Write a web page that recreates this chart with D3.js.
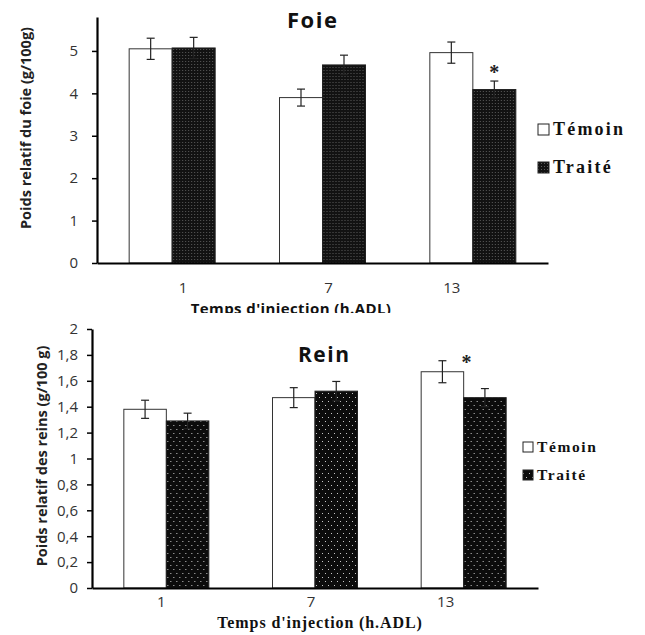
<!DOCTYPE html>
<html>
<head>
<meta charset="utf-8">
<script src="https://cdn.jsdelivr.net/npm/d3@7"></script>
<style>
  body { margin: 0; background: #fff; }
  svg { display: block; }
</style>
</head>
<body>
<svg id="chart"></svg>
<script>
// data
const categories = ['1', '7', '13'];
const series = ['Témoin', 'Traité'];

const foieTemoin = [5.05, 3.90, 4.96];
const foieTraite = [5.07, 4.67, 4.09];
const foieTemoinErr = [0.25, 0.20, 0.25];
const foieTraiteErr = [0.25, 0.23, 0.20];
const foieTicks = [0, 1, 2, 3, 4, 5];

const reinTemoin = [1.38, 1.47, 1.67];
const reinTraite = [1.29, 1.52, 1.47];
const reinTemoinErr = [0.07, 0.077, 0.085];
const reinTraiteErr = [0.06, 0.075, 0.07];
const reinTicks = [0, 0.2, 0.4, 0.6, 0.8, 1, 1.2, 1.4, 1.6, 1.8, 2];

const width = 645, height = 635;
const sans = '"Open Sans", "Noto Sans", sans-serif';
const serif = '"Liberation Serif", "DejaVu Serif", serif';

const svg = d3.select('#chart')
  .attr('width', width)
  .attr('height', height);

const defs = svg.append('defs');

// dotted black fill, fine grey dots (top chart)
const p1 = defs.append('pattern').attr('id', 'dotsFine')
  .attr('patternUnits', 'userSpaceOnUse').attr('width', 3).attr('height', 3);
p1.append('rect').attr('width', 3).attr('height', 3).attr('fill', '#121212');
p1.append('rect').attr('x', 1).attr('y', 1).attr('width', 1).attr('height', 1).attr('fill', '#5a5a5a');

// dotted black fill, sparse light dots (bottom chart)
const p2 = defs.append('pattern').attr('id', 'dotsSparse')
  .attr('patternUnits', 'userSpaceOnUse').attr('width', 6).attr('height', 8);
p2.append('rect').attr('width', 6).attr('height', 8).attr('fill', '#0c0c0c');
p2.append('rect').attr('x', 1).attr('y', 1).attr('width', 1).attr('height', 1).attr('fill', '#c8c8c8');
p2.append('rect').attr('x', 4).attr('y', 5).attr('width', 1).attr('height', 1).attr('fill', '#c8c8c8');

function drawPanel(g, cfg) {
  const rows = categories.map((c, i) => ({
    category: c,
    values: [
      { key: series[0], value: cfg.temoin[i], err: cfg.temoinErr[i] },
      { key: series[1], value: cfg.traite[i], err: cfg.traiteErr[i] }
    ]
  }));

  const x0 = d3.scaleBand()
    .domain(categories)
    .range([cfg.left, cfg.right])
    .paddingInner(0)
    .paddingOuter(0);

  const x1 = d3.scaleBand()
    .domain(series)
    .range([-cfg.barW, cfg.barW]);

  const y = d3.scaleLinear()
    .domain([0, cfg.yMax])
    .range([cfg.bottom, cfg.top]);

  // bars
  const groups = g.selectAll('g.grp')
    .data(rows)
    .enter()
    .append('g')
    .attr('class', 'grp')
    .attr('transform', d => `translate(${x0(d.category) + x0.bandwidth() / 2},0)`);

  groups.selectAll('rect')
    .data(d => d.values)
    .enter()
    .append('rect')
    .attr('x', d => x1(d.key))
    .attr('y', d => y(d.value))
    .attr('width', x1.bandwidth())
    .attr('height', d => y(0) - y(d.value))
    .attr('fill', d => d.key === series[0] ? '#fff' : `url(#${cfg.pattern})`)
    .attr('stroke', d => d.key === series[0] ? '#333' : '#222')
    .attr('stroke-width', 1);

  // error bars
  const eb = groups.selectAll('g.err')
    .data(d => d.values)
    .enter()
    .append('g')
    .attr('class', 'err')
    .attr('stroke', '#222')
    .attr('stroke-width', 1.2);
  const cx = d => x1(d.key) + x1.bandwidth() / 2;
  eb.append('line')
    .attr('x1', cx).attr('x2', cx)
    .attr('y1', d => y(d.value + d.err)).attr('y2', d => y(d.value - d.err));
  eb.append('line')
    .attr('x1', d => cx(d) - 4).attr('x2', d => cx(d) + 4)
    .attr('y1', d => y(d.value + d.err)).attr('y2', d => y(d.value + d.err));
  eb.append('line')
    .attr('x1', d => cx(d) - 4).attr('x2', d => cx(d) + 4)
    .attr('y1', d => y(d.value - d.err)).attr('y2', d => y(d.value - d.err));

  // significance star
  const sRow = categories.indexOf(cfg.star.category);
  const sVal = rows[sRow].values.find(v => v.key === cfg.star.series);
  g.append('text')
    .attr('x', x0(cfg.star.category) + x0.bandwidth() / 2 + x1(cfg.star.series) + x1.bandwidth() / 2 + cfg.star.dx)
    .attr('y', y(sVal.value + sVal.err) - cfg.star.dy)
    .attr('text-anchor', 'middle')
    .attr('font-family', serif)
    .attr('font-weight', 'bold')
    .attr('font-size', 20)
    .attr('fill', '#222')
    .text('*');

  // axes
  const yAxis = d3.axisLeft(y)
    .tickValues(cfg.ticks)
    .tickSize(5)
    .tickSizeOuter(0)
    .tickPadding(cfg.yPad)
    .tickFormat(d => String(d).replace('.', ','));
  const ya = g.append('g')
    .attr('transform', `translate(${cfg.left},0)`)
    .call(yAxis);
  ya.select('.domain').attr('stroke', '#000').attr('stroke-width', 2.2);
  ya.selectAll('.tick line').attr('stroke', '#000').attr('stroke-width', 1.5);
  ya.selectAll('.tick text')
    .attr('font-family', sans)
    .attr('font-size', cfg.tickFont)
    .attr('fill', '#333');

  const xAxis = d3.axisBottom(x0).tickSize(0).tickPadding(cfg.xPad);
  const xa = g.append('g')
    .attr('transform', `translate(0,${cfg.bottom})`)
    .call(xAxis);
  xa.select('.domain').attr('stroke', '#000').attr('stroke-width', 2.2);
  xa.selectAll('.tick text')
    .attr('dx', (d, i) => cfg.xShift[i])
    .attr('font-family', sans)
    .attr('font-size', cfg.tickFont)
    .attr('fill', '#333');

  // titles
  g.append('text')
    .attr('x', cfg.titleX).attr('y', cfg.titleY)
    .attr('font-family', sans).attr('font-weight', 'bold').attr('font-size', cfg.titleFont)
    .attr('letter-spacing', 1.5)
    .attr('fill', '#111')
    .text(cfg.title);

  g.append('text')
    .attr('transform', `translate(${cfg.yLabelX},${cfg.yLabelY}) rotate(-90)`)
    .attr('text-anchor', 'middle')
    .attr('font-family', sans).attr('font-weight', 'bold').attr('font-size', 14.5)
    .attr('fill', '#222')
    .text(cfg.yLabel);

  // legend
  const lg = g.append('g');
  series.forEach((s, i) => {
    const ly = cfg.legendY + i * cfg.legendGap;
    lg.append('rect')
      .attr('x', cfg.legendX).attr('y', ly - cfg.legendBox)
      .attr('width', cfg.legendBox).attr('height', cfg.legendBox)
      .attr('fill', i === 0 ? '#fff' : `url(#${cfg.pattern})`)
      .attr('stroke', '#222').attr('stroke-width', 1);
    lg.append('text')
      .attr('x', cfg.legendX + cfg.legendBox + 4).attr('y', ly)
      .attr('font-family', serif).attr('font-weight', 'bold').attr('font-size', cfg.legendFont)
      .attr('letter-spacing', cfg.legendSpacing)
      .attr('fill', '#111')
      .text(s);
  });
}

// top panel: Foie
const gTop = svg.append('g');
drawPanel(gTop, {
  temoin: foieTemoin, traite: foieTraite,
  temoinErr: foieTemoinErr, traiteErr: foieTraiteErr,
  ticks: foieTicks, yMax: 5.8,
  left: 97, right: 548, top: 17, bottom: 263,
  barW: 43, pattern: 'dotsFine', tickFont: 15, xPad: 19, yPad: 14,
  xShift: [11, 6, -21],
  star: { category: '13', series: 'Traité', dx: 0, dy: 2 },
  title: 'Foie', titleX: 287, titleY: 28, titleFont: 22,
  yLabel: 'Poids relatif du foie (g/100g)', yLabelX: 31, yLabelY: 128,
  legendX: 538, legendY: 135, legendGap: 38, legendBox: 11, legendFont: 18, legendSpacing: 2.2
});
gTop.append('text')
  .attr('x', 291).attr('y', 314)
  .attr('text-anchor', 'middle')
  .attr('font-family', sans).attr('font-weight', 'bold').attr('font-size', 15)
  .attr('letter-spacing', 0.4)
  .attr('fill', '#111')
  .text("Temps d'injection (h.ADL)");

// white sheet that cuts the top panel off like the original
svg.append('rect')
  .attr('x', 0).attr('y', 313).attr('width', width).attr('height', height - 313)
  .attr('fill', '#fff');

// bottom panel: Rein
const gBot = svg.append('g');
drawPanel(gBot, {
  temoin: reinTemoin, traite: reinTraite,
  temoinErr: reinTemoinErr, traiteErr: reinTraiteErr,
  ticks: reinTicks, yMax: 2,
  left: 92, right: 538, top: 329, bottom: 588,
  barW: 42.5, pattern: 'dotsSparse', tickFont: 15, xPad: 8, yPad: 9,
  xShift: [-5, -4, -18],
  star: { category: '13', series: 'Témoin', dx: 24, dy: -8 },
  title: 'Rein', titleX: 298, titleY: 362, titleFont: 21,
  yLabel: 'Poids relatif des reins (g/100 g)', yLabelX: 47, yLabelY: 456,
  legendX: 523, legendY: 452, legendGap: 28, legendBox: 10, legendFont: 15.5, legendSpacing: 1.6
});
gBot.append('text')
  .attr('x', 320).attr('y', 628)
  .attr('text-anchor', 'middle')
  .attr('font-family', serif).attr('font-weight', 'bold').attr('font-size', 16)
  .attr('letter-spacing', 0.9)
  .attr('fill', '#111')
  .text("Temps d'injection (h.ADL)");
</script>
</body>
</html>
